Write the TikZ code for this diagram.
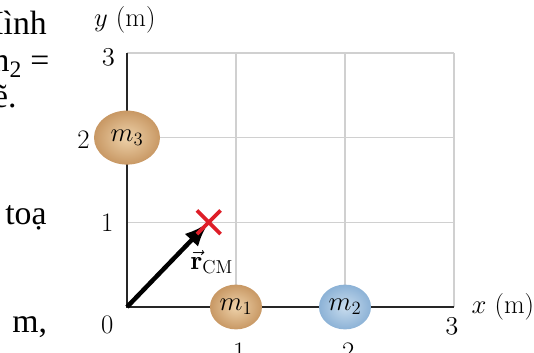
\documentclass[tikz,border=0pt]{standalone}
\usepackage{fix-cm}
\usepackage{fontspec}
\newfontfamily\vietfont{Liberation Serif}
\usetikzlibrary{arrows.meta,shapes.geometric,shapes.misc}
\definecolor{massbrown}{RGB}{200,152,100}
\definecolor{masslight}{RGB}{238,210,170}
\definecolor{massblue}{RGB}{140,178,214}
\definecolor{bluelight}{RGB}{200,220,238}
\definecolor{gridgray}{RGB}{208,208,208}
\definecolor{cmred}{RGB}{222,30,40}
\begin{document}
\begin{tikzpicture}[x=2.725cm,y=2.1175cm,
  every node/.style={font=\fontsize{19}{22}\selectfont},
  mass/.style={ellipse,inner sep=0pt,shading=radial},
  brownmass/.style={mass,inner color=masslight,outer color=massbrown},
  bluemass/.style={mass,inner color=bluelight,outer color=massblue},
  gridline/.style={gridgray,line width=0.9pt},
  viettext/.style={anchor=base west,inner sep=0pt,font=\vietfont\fontsize{24}{28}\selectfont}]
\useasboundingbox (-3.175cm,-1.15cm) rectangle (10.175cm,7.675cm);
% text of the page, cut at the left
\begin{scope}[x=0.025cm,y=-0.025cm,shift={(-3.175cm,7.675cm)}]
\clip (0,0) rectangle (60,353);
\node[viettext] (line1) at (-21,35) {Hình};
\node[viettext] (line2) at (-17,72) {m\textsubscript{2} =};
\node[viettext] (line3) at (-24,108) {vẽ.};
\node[viettext] (line4) at (5,225) {toạ};
\node[viettext] (line5) at (12,333) {m,};
\end{scope}
% grid
\foreach \i in {1,2,3} {
  \draw[gridline] (\i,0) -- (\i,3);
  \draw[gridline] (0,\i) -- (3,\i);
}
% axes
\coordinate (O) at (0,0);
\coordinate (ytop) at (0,3);
\coordinate (xend) at (3,0);
\draw[line width=1.1pt,black!85] (ytop) -- (O) -- (xend);
\node (ylabel) at (-0.02,3.39) {$y$ (m)};
\node[anchor=west,inner sep=0pt] (xlabel) at (3.16,0) {$x$ (m)};
\node (y3) at (-0.17,2.95) {$\mathnormal{3}$};
\node (y2) at (-0.40,1.97) {2};
\node (y1) at (-0.18,1.0) {1};
\node (zero) at (-0.18,-0.21) {0};
\node (x1) at (1.03,-0.53) {1};
\node (x2) at (2.03,-0.53) {2};
\node (x3) at (2.98,-0.23) {$\mathnormal{3}$};
% masses
\node[brownmass,minimum width=1.65cm,minimum height=1.35cm] (m3) at (0,2) {$m_3$};
\node[brownmass,minimum width=1.3cm,minimum height=1.12cm] (m1) at (1,0) {$m_1$};
\node[bluemass,minimum width=1.3cm,minimum height=1.12cm] (m2) at (2,0) {$m_2$};
% centre of mass
\coordinate (cm) at (0.75,1);
\draw[line width=3.2pt,-{Latex[length=0.62cm,width=0.46cm]}] (O) -- (cm);
\node[cross out,draw=cmred,line width=2.6pt,minimum size=0.5cm,inner sep=0pt] (cross) at (cm) {};
\node (rcm) at (0.78,0.53) {$\vec{\mathbf{r}}_{\mathrm{CM}}$};
\end{tikzpicture}
\end{document}
